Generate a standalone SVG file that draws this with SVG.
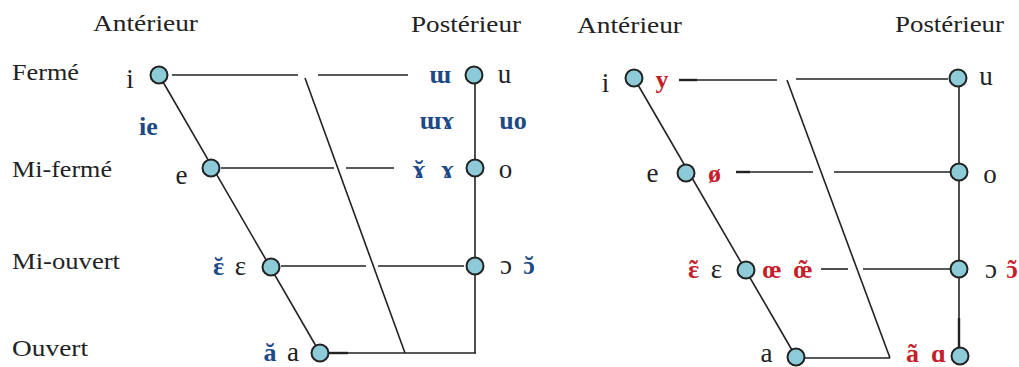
<svg xmlns="http://www.w3.org/2000/svg" width="1019" height="367" viewBox="0 0 1019 367">
<style>
text{font-family:"Liberation Serif","DejaVu Serif",serif;fill:#222}
.hd{font-size:23px}
.v{font-size:27px}
.b{font-size:26px;font-weight:bold;fill:#1d4a86}
.r{font-size:26px;font-weight:bold;fill:#c41e2b}
.ln{stroke:#222;stroke-width:1.6;fill:none}
.thk{stroke:#222;stroke-width:2.4;fill:none}
.nd{fill:#8ecbd8;stroke:#222;stroke-width:2}
</style>
<rect width="1019" height="367" fill="#fff"/>
<g id="headings">
<text class="hd" x="93" y="31" textLength="105" lengthAdjust="spacingAndGlyphs">Antérieur</text>
<text class="hd" x="411" y="32" textLength="110" lengthAdjust="spacingAndGlyphs">Postérieur</text>
<text class="hd" x="12" y="80" textLength="67" lengthAdjust="spacingAndGlyphs">Fermé</text>
<text class="hd" x="12" y="177" textLength="100" lengthAdjust="spacingAndGlyphs">Mi-fermé</text>
<text class="hd" x="12" y="269" textLength="108" lengthAdjust="spacingAndGlyphs">Mi-ouvert</text>
<text class="hd" x="12" y="356" textLength="76" lengthAdjust="spacingAndGlyphs">Ouvert</text>
<text class="hd" x="577" y="33" textLength="105" lengthAdjust="spacingAndGlyphs">Antérieur</text>
<text class="hd" x="895" y="32" textLength="109" lengthAdjust="spacingAndGlyphs">Postérieur</text>
</g>
<g id="connectors">
<line class="ln" x1="159" y1="75" x2="320" y2="353"/>
<line class="ln" x1="475" y1="75" x2="475" y2="353"/>
<line class="ln" x1="320" y1="353" x2="476" y2="353"/>
<line class="thk" x1="328" y1="353" x2="348" y2="353"/>
<line class="ln" x1="305" y1="78" x2="405" y2="353"/>
<line class="ln" x1="172" y1="75" x2="298" y2="75"/>
<line class="ln" x1="318" y1="75" x2="408" y2="75"/>
<line class="ln" x1="221" y1="168" x2="334" y2="168"/>
<line class="ln" x1="346" y1="168" x2="394" y2="168"/>
<line class="ln" x1="281" y1="266" x2="366" y2="266"/>
<line class="ln" x1="378" y1="266" x2="464" y2="266"/>
<line class="ln" x1="634" y1="78" x2="796" y2="357"/>
<line class="ln" x1="959" y1="78" x2="959" y2="356"/>
<line class="thk" x1="959" y1="318" x2="959" y2="348"/>
<line class="ln" x1="796" y1="358" x2="890" y2="358"/>
<line class="ln" x1="787" y1="80" x2="890" y2="358"/>
<line class="ln" x1="679" y1="80" x2="777" y2="80"/>
<line class="thk" x1="679" y1="80" x2="697" y2="80"/>
<line class="ln" x1="796" y1="79" x2="948" y2="79"/>
<line class="ln" x1="736" y1="172" x2="813" y2="172"/>
<line class="thk" x1="736" y1="172" x2="750" y2="172"/>
<line class="ln" x1="834" y1="172" x2="950" y2="172"/>
<line class="ln" x1="821" y1="269" x2="848" y2="269"/>
<line class="ln" x1="863" y1="269" x2="950" y2="269"/>
</g>
<g id="L-i">
<circle class="nd" cx="159" cy="75" r="8.5"/>
<text class="v" x="130" y="88" text-anchor="middle">i</text>
<text class="b" x="148.5" y="135" text-anchor="middle">ie</text>
</g>
<g id="L-e">
<circle class="nd" cx="211" cy="168" r="8.5"/>
<text class="v" x="181.5" y="184" text-anchor="middle">e</text>
</g>
<g id="L-eps">
<circle class="nd" cx="271" cy="267" r="8.5"/>
<text class="b" x="218.5" y="275" text-anchor="middle">ɛ</text>
<text class="b" x="218.5" y="275" text-anchor="middle">˘</text>
<text class="v" x="240.5" y="275" text-anchor="middle">ɛ</text>
</g>
<g id="L-a">
<circle class="nd" cx="320" cy="353" r="8.5"/>
<text class="b" x="270" y="361" text-anchor="middle">ă</text>
<text class="v" x="293" y="361" text-anchor="middle">a</text>
</g>
<g id="L-u">
<circle class="nd" cx="474" cy="75" r="8.5"/>
<text class="b" x="440" y="83" text-anchor="middle">ɯ</text>
<text class="v" x="504.5" y="83" text-anchor="middle">u</text>
<text class="b" x="437" y="129" text-anchor="middle">ɯɤ</text>
<text class="b" x="513" y="129" text-anchor="middle">uo</text>
</g>
<g id="L-o">
<circle class="nd" cx="475" cy="168" r="8.5"/>
<text class="b" x="419" y="178" text-anchor="middle">ɤ</text>
<text class="b" x="419" y="178" text-anchor="middle">˘</text>
<text class="b" x="447.5" y="178" text-anchor="middle">ɤ</text>
<text class="v" x="505.5" y="178" text-anchor="middle">o</text>
</g>
<g id="L-open-o">
<circle class="nd" cx="475" cy="266" r="8.5"/>
<text class="v" x="506" y="274" text-anchor="middle">ɔ</text>
<text class="b" x="529" y="274" text-anchor="middle">ɔ</text>
<text class="b" x="529" y="274" text-anchor="middle">˘</text>
</g>
<g id="R-i">
<circle class="nd" cx="634" cy="78" r="8.5"/>
<text class="v" x="605.5" y="92" text-anchor="middle">i</text>
<text class="r" x="662" y="88" text-anchor="middle">y</text>
</g>
<g id="R-e">
<circle class="nd" cx="686" cy="173" r="8.5"/>
<text class="v" x="652.5" y="182" text-anchor="middle">e</text>
<text class="r" x="714.5" y="182" text-anchor="middle">ø</text>
</g>
<g id="R-eps">
<circle class="nd" cx="746" cy="270" r="8.5"/>
<text class="r" x="693.5" y="278" text-anchor="middle">ɛ</text>
<text class="r" x="693.5" y="278" text-anchor="middle">˜</text>
<text class="v" x="716.5" y="278" text-anchor="middle">ɛ</text>
<text class="r" x="772" y="278" text-anchor="middle">œ</text>
<text class="r" x="803" y="278" text-anchor="middle">œ</text>
<text class="r" x="803" y="278" text-anchor="middle">˜</text>
</g>
<g id="R-a">
<circle class="nd" cx="796" cy="357" r="8.5"/>
<text class="v" x="766.5" y="362" text-anchor="middle">a</text>
</g>
<g id="R-u">
<circle class="nd" cx="958" cy="78" r="8.5"/>
<text class="v" x="986" y="85" text-anchor="middle">u</text>
</g>
<g id="R-o">
<circle class="nd" cx="959" cy="172" r="8.5"/>
<text class="v" x="990" y="183" text-anchor="middle">o</text>
</g>
<g id="R-open-o">
<circle class="nd" cx="959" cy="269" r="8.5"/>
<text class="v" x="991" y="278" text-anchor="middle">ɔ</text>
<text class="r" x="1012" y="278" text-anchor="middle">ɔ</text>
<text class="r" x="1012" y="278" text-anchor="middle">˜</text>
</g>
<g id="R-alpha">
<circle class="nd" cx="960" cy="356" r="8.5"/>
<text class="r" x="912.5" y="362" text-anchor="middle">ã</text>
<text class="r" x="938.5" y="362" text-anchor="middle">ɑ</text>
</g>
</svg>
